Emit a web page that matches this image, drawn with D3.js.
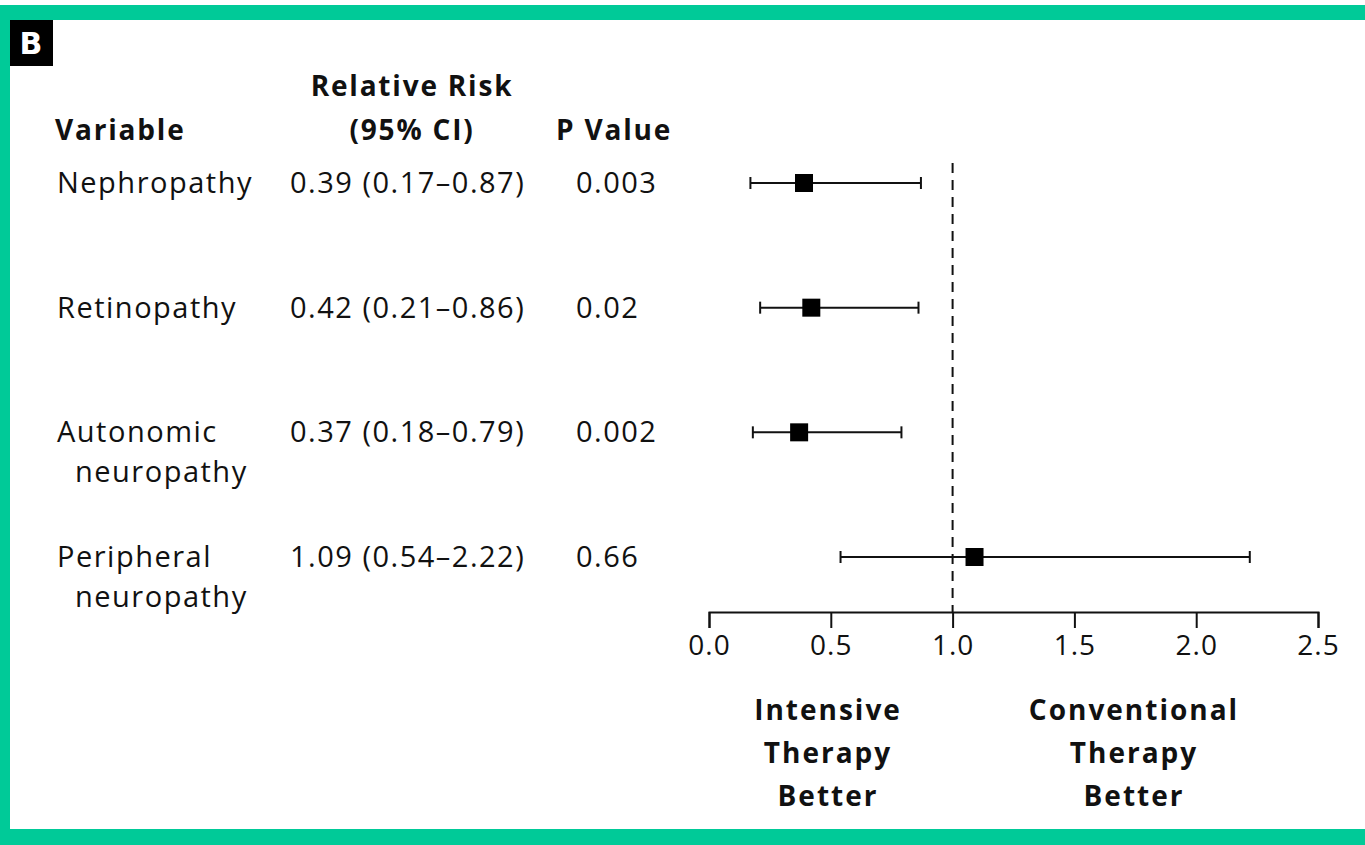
<!DOCTYPE html>
<html>
  <head>
    <meta charset="utf-8">
    <title>Relative risk forest plot</title>
    <script src="https://d3js.org/d3.v7.min.js"></script>
    <style>
      body { margin: 0; background: white; }
      svg { display: block; }
      text { font-family: "Open Sans", "DejaVu Sans", sans-serif; fill: #111; }
      .head { font-weight: 700; font-size: 28px; letter-spacing: 1.8px; }
      .cell { font-size: 29px; letter-spacing: 1.5px; }
      .note { font-weight: 700; font-size: 28px; letter-spacing: 2px; }
      .axis text { font-size: 28px; letter-spacing: 1px; font-family: "Open Sans", sans-serif; fill: #111; }
      .axis path, .axis line { stroke: #111; stroke-width: 2px; }
      .ci { stroke: #111; stroke-width: 2px; }
    </style>
  </head>
  <body>
    <svg></svg>
    <script>
      // data
      var variables = ["Nephropathy", "Retinopathy", "Autonomic neuropathy", "Peripheral neuropathy"];
      var labelLines = [["Nephropathy"], ["Retinopathy"], ["Autonomic", "neuropathy"], ["Peripheral", "neuropathy"]];
      var relRisk = [0.39, 0.42, 0.37, 1.09];
      var ciLow = [0.17, 0.21, 0.18, 0.54];
      var ciHigh = [0.87, 0.86, 0.79, 2.22];
      var pValues = ["0.003", "0.02", "0.002", "0.66"];
      var xTicks = [0, 0.5, 1, 1.5, 2, 2.5];
      var leftNote = ["Intensive", "Therapy", "Better"];
      var rightNote = ["Conventional", "Therapy", "Better"];

      // layout
      var svgWidth = 1365, svgHeight = 845,
          green = "#00ca98",
          axisY = 612;

      var svg = d3.select("svg").attr("width", svgWidth).attr("height", svgHeight);

      // frame
      svg.append("rect").attr("x", 0).attr("y", 5).attr("width", svgWidth).attr("height", 15).attr("fill", green);
      svg.append("rect").attr("x", 0).attr("y", 5).attr("width", 10).attr("height", svgHeight - 5).attr("fill", green);
      svg.append("rect").attr("x", 0).attr("y", 829).attr("width", svgWidth).attr("height", 16).attr("fill", green);

      // panel badge
      svg.append("rect").attr("x", 10).attr("y", 20).attr("width", 43).attr("height", 46).attr("fill", "#000");
      svg.append("text").attr("x", 31).attr("y", 54).attr("text-anchor", "middle")
        .style("font-family", "DejaVu Sans").style("font-weight", 700).style("font-size", "30px")
        .style("fill", "#fff").text("B");

      var x = d3.scaleLinear().domain([0, 2.5]).range([709, 1318]);
      var y = d3.scalePoint().domain(variables).range([183, 557]);

      // headers
      svg.append("text").attr("class", "head").attr("x", 55).attr("y", 140).text("Variable");
      svg.append("text").attr("class", "head").attr("x", 412).attr("y", 96).attr("text-anchor", "middle").text("Relative Risk");
      svg.append("text").attr("class", "head").attr("x", 412).attr("y", 140).attr("text-anchor", "middle").text("(95% CI)");
      svg.append("text").attr("class", "head").attr("x", 556).attr("y", 140).text("P Value");

      // table rows
      var rows = svg.append("g").selectAll("g").data(variables).enter().append("g");
      rows.each(function(v, i) {
        var g = d3.select(this);
        labelLines[i].forEach(function(line, j) {
          g.append("text").attr("class", "cell")
            .attr("x", j === 0 ? 57 : 75)
            .attr("y", y(v) + 10 + j * 40)
            .text(line);
        });
        g.append("text").attr("class", "cell").attr("x", 290).attr("y", y(v) + 10)
          .text(relRisk[i].toFixed(2) + " (" + ciLow[i].toFixed(2) + "\u2013" + ciHigh[i].toFixed(2) + ")");
        g.append("text").attr("class", "cell").attr("x", 576).attr("y", y(v) + 10).text(pValues[i]);
      });

      // reference line at 1.0
      svg.append("line")
        .attr("x1", x(1)).attr("x2", x(1))
        .attr("y1", 163).attr("y2", axisY)
        .attr("stroke", "#111").attr("stroke-width", 2).attr("stroke-dasharray", "10,7");

      // axis
      svg.append("g").attr("class", "axis")
        .attr("transform", "translate(0," + axisY + ")")
        .call(d3.axisBottom(x).tickValues(xTicks).tickSize(16).tickSizeOuter(16).tickPadding(7)
          .tickFormat(d3.format(".1f")));

      // confidence intervals
      var ci = svg.append("g").selectAll("g").data(variables).enter().append("g");
      ci.append("line").attr("class", "ci")
        .attr("x1", function(d, i) { return x(ciLow[i]); })
        .attr("x2", function(d, i) { return x(ciHigh[i]); })
        .attr("y1", function(d) { return y(d); }).attr("y2", function(d) { return y(d); });
      ci.append("line").attr("class", "ci")
        .attr("x1", function(d, i) { return x(ciLow[i]); })
        .attr("x2", function(d, i) { return x(ciLow[i]); })
        .attr("y1", function(d) { return y(d) - 6; }).attr("y2", function(d) { return y(d) + 6; });
      ci.append("line").attr("class", "ci")
        .attr("x1", function(d, i) { return x(ciHigh[i]); })
        .attr("x2", function(d, i) { return x(ciHigh[i]); })
        .attr("y1", function(d) { return y(d) - 6; }).attr("y2", function(d) { return y(d) + 6; });
      ci.append("rect")
        .attr("x", function(d, i) { return x(relRisk[i]) - 9; })
        .attr("y", function(d) { return y(d) - 9; })
        .attr("width", 18).attr("height", 18).attr("fill", "#000");

      // favour notes
      [[leftNote, 828], [rightNote, 1134]].forEach(function(n) {
        n[0].forEach(function(line, j) {
          svg.append("text").attr("class", "note").attr("x", n[1]).attr("y", 720 + j * 43)
            .attr("text-anchor", "middle").text(line);
        });
      });
    </script>
  </body>
</html>
